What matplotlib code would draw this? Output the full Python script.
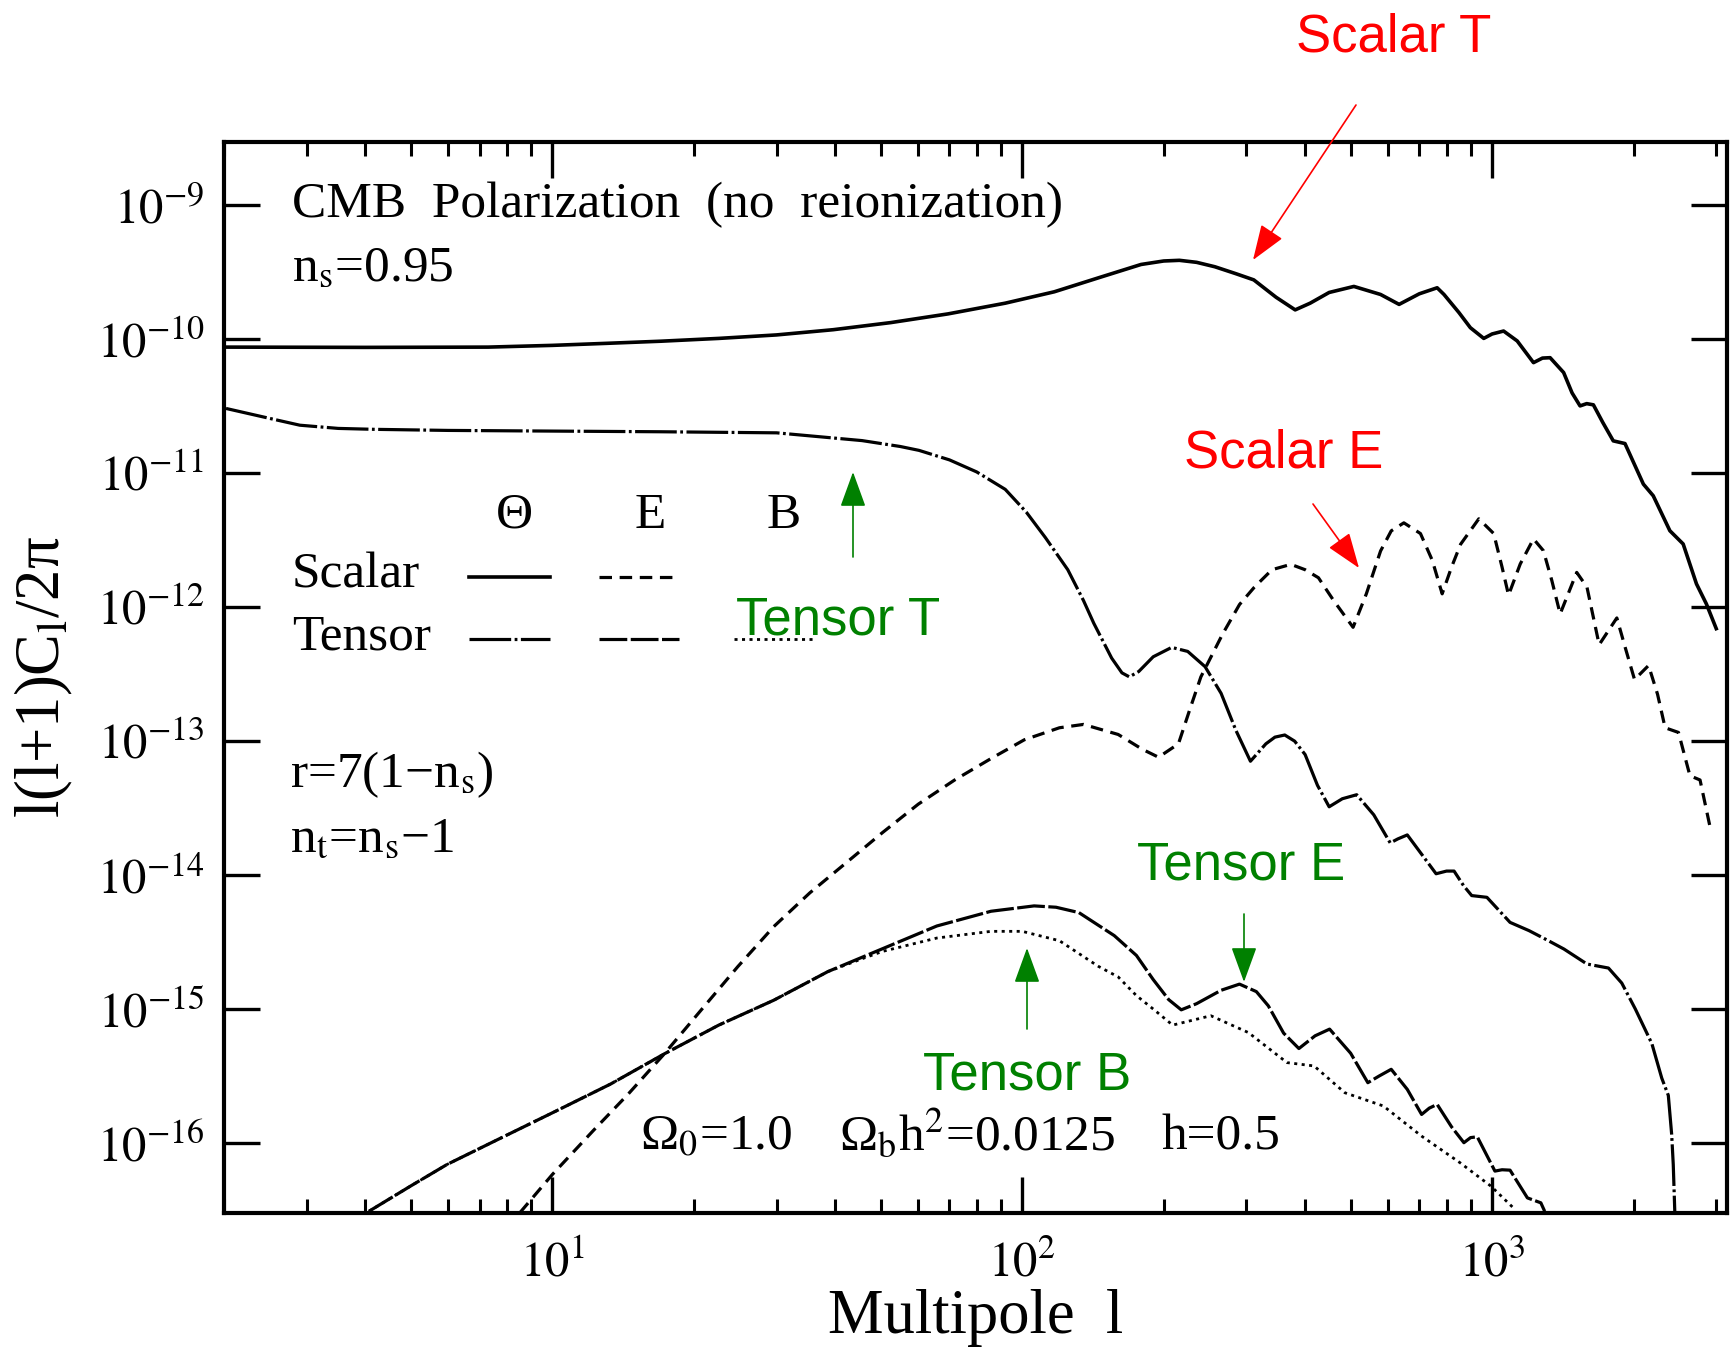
import numpy as np
import matplotlib
matplotlib.use('Agg')
import matplotlib.pyplot as plt
from matplotlib.lines import Line2D
from matplotlib.ticker import NullLocator, NullFormatter

# values: multipole l and log10 of l(l+1)C_l/2pi
scalar_T_l = [2.0, 4, 7.3, 10, 13, 17, 22.6, 30, 39.6, 52.5, 69.5, 92, 117, 147, 179, 200, 216,
              235, 257, 285, 311, 347, 381, 410, 450, 508, 579, 634, 700, 764, 790, 850, 899,
              960, 1000, 1058, 1131, 1225, 1280, 1329, 1420, 1480, 1539, 1590, 1643, 1720,
              1811, 1918, 2099, 2203, 2390, 2551, 2723, 2858, 3000]
scalar_T_log = [-10.058, -10.06, -10.058, -10.045, -10.03, -10.014, -9.993, -9.967, -9.928,
                -9.875, -9.81, -9.73, -9.645, -9.535, -9.441, -9.415, -9.41, -9.425, -9.458,
                -9.51, -9.556, -9.686, -9.78, -9.73, -9.65, -9.605, -9.665, -9.739, -9.66,
                -9.615, -9.665, -9.80, -9.913, -9.993, -9.96, -9.938, -10.012, -10.174, -10.14,
                -10.137, -10.248, -10.40, -10.497, -10.48, -10.489, -10.62, -10.758, -10.778,
                -11.081, -11.168, -11.429, -11.528, -11.826, -11.975, -12.16]

tensor_T_l = [2.02, 2.5, 2.9, 3.5, 4.19, 6, 10, 17, 30, 45.6, 55, 60.3, 70, 80, 92, 102, 112,
              125, 135, 142, 155, 163, 169, 177, 190, 208, 225, 245, 265, 285, 306, 330, 345,
              362, 380, 400, 425, 450, 480, 515, 560, 607, 630, 660, 710, 760, 800, 830, 870,
              905, 975, 1092, 1199, 1318, 1422, 1592, 1769, 1888, 2018, 2188, 2297, 2372,
              2411, 2430, 2453]
tensor_T_log = [-10.516, -10.59, -10.641, -10.665, -10.672, -10.68, -10.685, -10.69, -10.698,
                -10.756, -10.80, -10.829, -10.9, -10.99, -11.12, -11.29, -11.48, -11.72,
                -11.95, -12.12, -12.38, -12.49, -12.52, -12.48, -12.37, -12.30, -12.33,
                -12.444, -12.643, -12.92, -13.15, -13.02, -12.97, -12.954, -13.0, -13.10,
                -13.33, -13.49, -13.43, -13.40, -13.55, -13.76, -13.73, -13.70, -13.85,
                -13.99, -13.97, -13.97, -14.08, -14.153, -14.166, -14.353, -14.415, -14.49,
                -14.552, -14.664, -14.694, -14.806, -15.0, -15.258, -15.516, -15.645, -15.935,
                -16.16, -16.6]

scalar_E_l = [8.53, 10, 12.2, 14.5, 17.3, 20.7, 24.8, 29.6, 35.3, 42.2, 50.4, 60.1, 71.8, 85.8,
              101, 120, 135, 160, 180, 195, 215, 228, 240, 267, 290, 312, 340, 373, 400, 427,
              460, 506, 540, 579, 610, 649, 704, 746, 783, 820, 857, 937, 1008, 1050, 1084,
              1148, 1225, 1286, 1340, 1396, 1514, 1592, 1690, 1843, 1920, 2010, 2153, 2250,
              2335, 2493, 2637, 2771, 2912]
scalar_E_log = [-16.52, -16.235, -15.91, -15.635, -15.335, -15.01, -14.684, -14.384, -14.133,
                -13.908, -13.683, -13.47, -13.29, -13.13, -12.99, -12.90, -12.875, -12.95,
                -13.06, -13.12, -13.02, -12.75, -12.52, -12.2, -11.98, -11.85, -11.72, -11.68,
                -11.72, -11.78, -11.95, -12.15, -11.9, -11.58, -11.43, -11.37, -11.45, -11.65,
                -11.90, -11.70, -11.53, -11.34, -11.45, -11.70, -11.91, -11.677, -11.49,
                -11.578, -11.80, -12.05, -11.74, -11.85, -12.28, -12.08, -12.30, -12.54,
                -12.435, -12.65, -12.90, -12.935, -13.258, -13.29, -13.645]

tensor_E_l = [4.07, 5.0, 5.97, 7.8, 10.2, 13.3, 17.3, 22.6, 29.6, 38.6, 50.4, 65.8, 85.8, 106,
              118, 132, 157, 175, 190, 205, 218, 235, 265, 290, 315, 334, 360, 388, 420, 451,
              500, 544, 575, 610, 660, 708, 735, 764, 820, 871, 900, 930, 1014, 1050, 1092,
              1189, 1270, 1294]
tensor_E_log = [-16.51, -16.32, -16.16, -15.96, -15.76, -15.56, -15.335, -15.12, -14.934,
                -14.72, -14.55, -14.38, -14.27, -14.23, -14.24, -14.28, -14.452, -14.60, -14.78,
                -14.93, -15.006, -14.96, -14.86, -14.814, -14.87, -14.976, -15.18, -15.295,
                -15.2, -15.15, -15.33, -15.55, -15.5, -15.45, -15.60, -15.787, -15.74, -15.712,
                -15.88, -15.998, -15.96, -15.954, -16.21, -16.2, -16.203, -16.41, -16.447,
                -16.51]

tensor_B_l = [4.07, 5.0, 5.97, 7.8, 10.2, 13.3, 17.3, 22.6, 29.6, 38.6, 46, 50.4, 65.8, 85.8,
              100, 120, 145, 160, 175, 190, 209, 252, 303, 366, 418, 486, 587, 708, 855, 995,
              1114]
tensor_B_log = [-16.51, -16.32, -16.16, -15.96, -15.76, -15.56, -15.335, -15.12, -14.934,
                -14.72, -14.62, -14.57, -14.47, -14.42, -14.42, -14.49, -14.68, -14.76, -14.90,
                -15.0, -15.12, -15.05, -15.176, -15.40, -15.425, -15.625, -15.724, -15.949,
                -16.148, -16.323, -16.49]

x_ticks = [10, 100, 1000]
x_labels = [r'$10^{1}$', r'$10^{2}$', r'$10^{3}$']
y_ticks = [1e-16, 1e-15, 1e-14, 1e-13, 1e-12, 1e-11, 1e-10, 1e-9]
y_labels = [r'$10^{-16}$', r'$10^{-15}$', r'$10^{-14}$', r'$10^{-13}$',
            r'$10^{-12}$', r'$10^{-11}$', r'$10^{-10}$', r'$10^{-9}$']

plt.rcParams['font.family'] = ['Liberation Serif', 'DejaVu Serif']
plt.rcParams['mathtext.fontset'] = 'stix'
plt.rcParams['lines.scale_dashes'] = False

W, H = 1734, 1351
fig = plt.figure(figsize=(W / 100, H / 100), dpi=100)
ax = fig.add_axes([224 / W, 1 - 1213 / H, (1727 - 224) / W, (1213 - 141.5) / H])


def fx(px):
    return px / W


def fy(py):
    return 1 - py / H


st = dict(solid=dict(ls='-', lw=2.6),
          tT=dict(ls=(0, (30, 2.5, 2, 2.5)), lw=2.3),
          sE=dict(ls=(0, (9, 5.5)), lw=2.3),
          tE=dict(ls=(0, (20, 2.5)), lw=2.3),
          tB=dict(ls=(0, (2.2, 3.2)), lw=2.0))

ax.plot(scalar_T_l, 10 ** np.array(scalar_T_log), color='k', **st['solid'])
ax.plot(tensor_T_l, 10 ** np.array(tensor_T_log), color='k', **st['tT'])
ax.plot(scalar_E_l, 10 ** np.array(scalar_E_log), color='k', **st['sE'])
ax.plot(tensor_E_l, 10 ** np.array(tensor_E_log), color='k', **st['tE'])
ax.plot(tensor_B_l, 10 ** np.array(tensor_B_log), color='k', **st['tB'])

ax.set_xscale('log')
ax.set_yscale('log')
ax.set_xlim(2, 10 ** 3.5)
ax.set_ylim(3e-17, 3e-9)
ax.set_xticks(x_ticks)
ax.set_xticklabels(x_labels)
ax.set_yticks(y_ticks)
ax.set_yticklabels(y_labels)
ax.yaxis.set_minor_locator(NullLocator())
ax.xaxis.set_minor_formatter(NullFormatter())
ax.tick_params(which='both', direction='in', top=True, right=True, labelsize=35)
ax.tick_params(which='major', length=26, width=2.4)
ax.tick_params(which='minor', length=10, width=2.2)
ax.tick_params(axis='x', pad=20)
ax.tick_params(axis='y', pad=14)
for s in ax.spines.values():
    s.set_linewidth(3)

fig.text(fx(976), fy(1333), 'Multipole  l', fontsize=45, ha='center', va='baseline')
fig.text(fx(44), fy(677), r'l(l+1)C$_\mathrm{l}$/2π', fontsize=45, rotation=90,
         ha='center', va='center')

fs = 37
fig.text(fx(292), fy(217), 'CMB  Polarization  (no  reionization)', fontsize=fs, va='baseline')
fig.text(fx(292), fy(281), r'n$_\mathrm{s}$=0.95', fontsize=fs, va='baseline')
fig.text(fx(514), fy(528), 'Θ', fontsize=fs, ha='center', va='baseline')
fig.text(fx(650), fy(528), 'E', fontsize=fs, ha='center', va='baseline')
fig.text(fx(784), fy(528), 'B', fontsize=fs, ha='center', va='baseline')
fig.text(fx(292), fy(588), 'Scalar', fontsize=fs, va='baseline')
fig.text(fx(292), fy(649), 'Tensor', fontsize=fs, va='baseline')
fig.text(fx(290), fy(787), r'r=7(1−n$_\mathrm{s}$)', fontsize=fs, va='baseline')
fig.text(fx(290), fy(852), r'n$_\mathrm{t}$=n$_\mathrm{s}$−1', fontsize=fs, va='baseline')
fig.text(fx(640), fy(1150), r'Ω$_0$=1.0', fontsize=fs, va='baseline')
fig.text(fx(839), fy(1150), r'Ω$_\mathrm{b}$h$^2$=0.0125', fontsize=fs, va='baseline')
fig.text(fx(1161), fy(1150), 'h=0.5', fontsize=fs, va='baseline')

# legend samples
for (x0, x1, y, key) in [(469, 550, 577, 'solid'), (599, 679, 577, 'sE'),
                         (469, 550, 639, 'tT'), (599, 679, 639, 'tE'), (734, 814, 639, 'tB')]:
    fig.add_artist(Line2D([fx(x0), fx(x1)], [fy(y), fy(y)], color='k', **st[key]))

red = '#ff0000'
green = '#008000'
sans = ['Liberation Sans', 'DejaVu Sans']
notes = [('Scalar T', 1394, 51, red, (1356, 105), (1253, 260)),
         ('Scalar E', 1284, 467, red, (1313, 504), (1359, 568)),
         ('Tensor T', 838, 635, green, (853, 557), (853, 472)),
         ('Tensor E', 1241, 879, green, (1244, 914), (1244, 982)),
         ('Tensor B', 1027, 1090, green, (1027, 1029), (1027, 948))]
for txt, cx, by, col, tail, tip in notes:
    fig.text(fx(cx), fy(by), txt, fontsize=38, color=col, ha='center', va='baseline',
             family=sans)
    ax.annotate('', xy=(fx(tip[0]), fy(tip[1])), xytext=(fx(tail[0]), fy(tail[1])),
                xycoords='figure fraction', textcoords='figure fraction',
                arrowprops=dict(arrowstyle='-|>,head_length=1.1,head_width=0.4',
                                color=col, lw=1.2, mutation_scale=20,
                                shrinkA=0, shrinkB=0),
                annotation_clip=False)

fig.savefig('out.png', dpi=100)
